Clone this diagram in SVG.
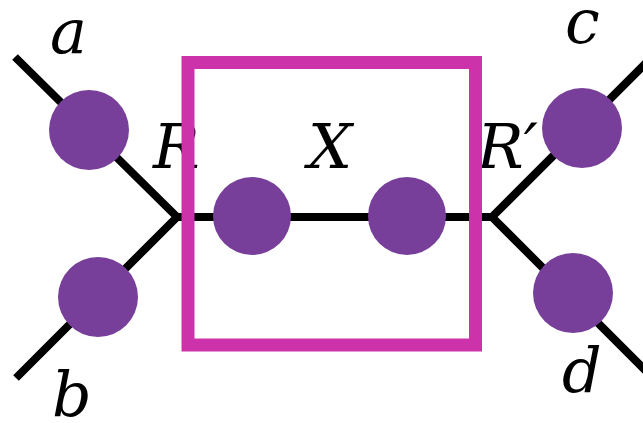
<svg xmlns="http://www.w3.org/2000/svg" width="643" height="423" viewBox="0 0 643 423">
<style>
.edge{stroke:#000;stroke-width:8;fill:none;stroke-linejoin:miter}
.dot{fill:#773f99}
.box{fill:none;stroke:#cc33aa;stroke-width:13}
.lbl{font-family:'DejaVu Serif',serif;font-style:italic;font-size:62px;fill:#000}
</style>
<rect width="643" height="423" fill="#fff"/>
<g id="connectors">
<polyline class="edge" points="15,57 177,217 16,378"/>
<line class="edge" x1="177" y1="217" x2="492" y2="217"/>
<polyline class="edge" points="646,63 492,217 646,371"/>
</g>
<g id="node-a"><circle class="dot" cx="89" cy="130" r="40"/><text class="lbl" x="50" y="53">a</text></g>
<g id="node-b"><circle class="dot" cx="98" cy="297" r="40"/><text class="lbl" x="52" y="416">b</text></g>
<g id="node-c"><circle class="dot" cx="582" cy="128" r="40"/><text class="lbl" x="565" y="43">c</text></g>
<g id="node-d"><circle class="dot" cx="573" cy="293" r="40"/><text class="lbl" x="562" y="392">d</text></g>
<g id="node-x1"><circle class="dot" cx="252" cy="216" r="39"/></g>
<g id="node-x2"><circle class="dot" cx="407" cy="216" r="39"/></g>
<g id="label-R"><text class="lbl" x="153" y="168">R</text></g>
<g id="label-Rp"><text class="lbl" x="477" y="168">R′</text></g>
<g id="node-X"><text class="lbl" x="308" y="168">X</text><rect class="box" x="188" y="62.5" width="287.5" height="282.5"/></g>
</svg>
